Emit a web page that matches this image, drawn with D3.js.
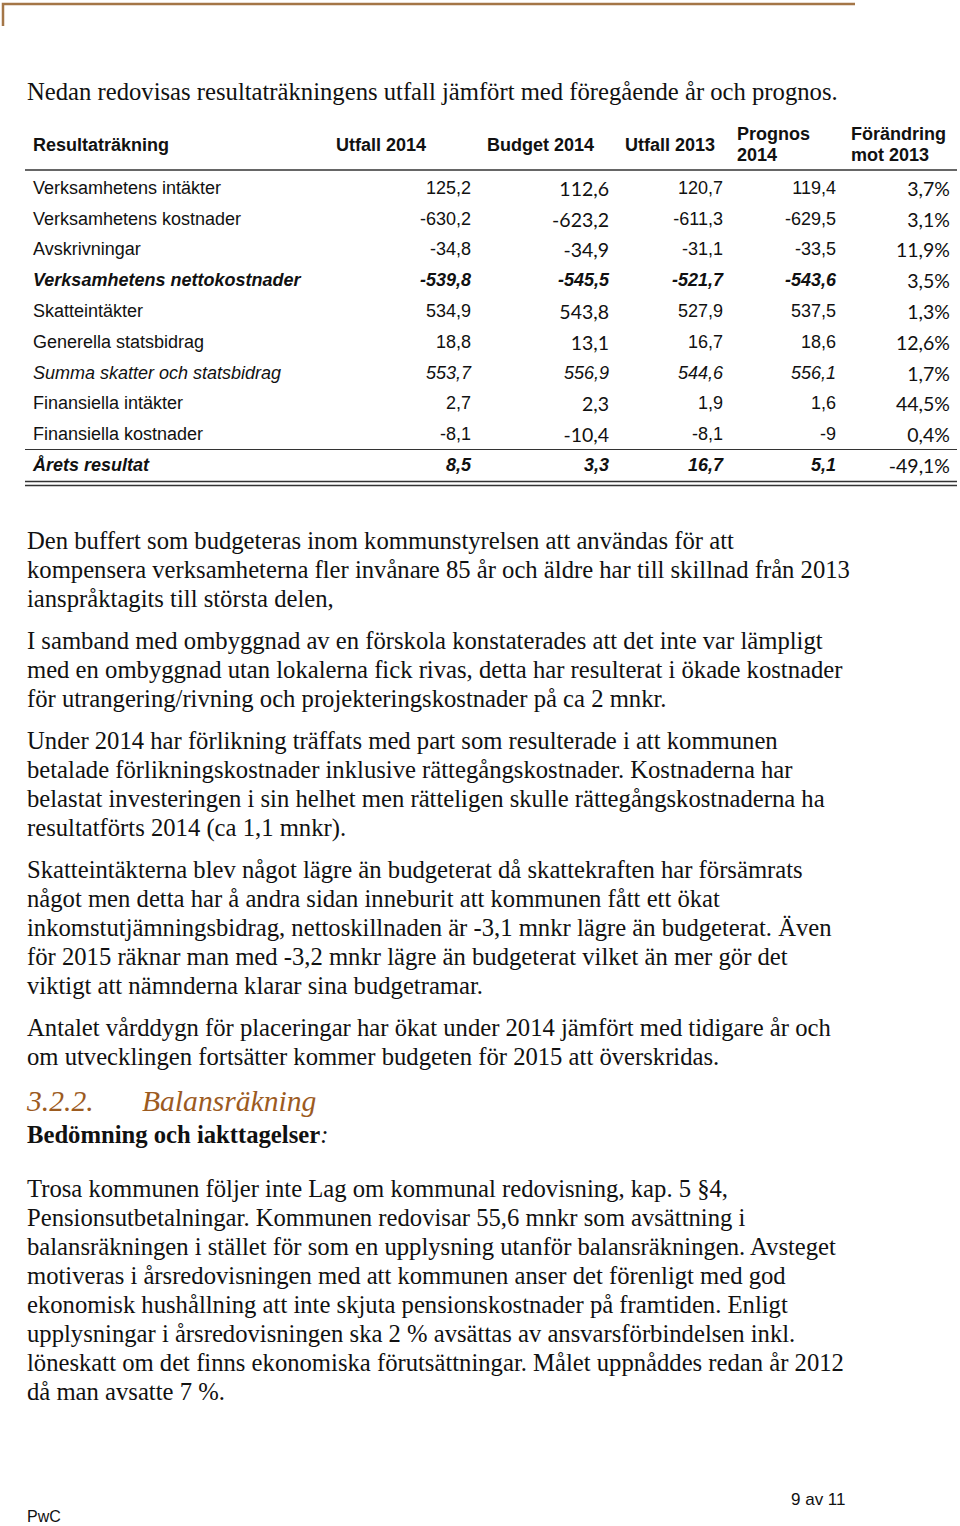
<!DOCTYPE html>
<html><head><meta charset="utf-8">
<script src="https://cdn.jsdelivr.net/npm/d3@7"></script>
<style>body{margin:0;background:#fff}svg{display:block}</style>
</head><body>
<script>
// ---- data ----
const headers = [["Resultaträkning"],["Utfall 2014"],["Budget 2014"],["Utfall 2013"],["Prognos","2014"],["Förändring","mot 2013"]];
const rowLabels = ["Verksamhetens intäkter","Verksamhetens kostnader","Avskrivningar","Verksamhetens nettokostnader","Skatteintäkter","Generella statsbidrag","Summa skatter och statsbidrag","Finansiella intäkter","Finansiella kostnader","Årets resultat"];
const rowStyle = ["n","n","n","bi","n","n","i","n","n","bi"];
const utfall2014 = ["125,2","-630,2","-34,8","-539,8","534,9","18,8","553,7","2,7","-8,1","8,5"];
const budget2014 = ["112,6","-623,2","-34,9","-545,5","543,8","13,1","556,9","2,3","-10,4","3,3"];
const utfall2013 = ["120,7","-611,3","-31,1","-521,7","527,9","16,7","544,6","1,9","-8,1","16,7"];
const prognos2014 = ["119,4","-629,5","-33,5","-543,6","537,5","18,6","556,1","1,6","-9","5,1"];
const forandring = ["3,7%","3,1%","11,9%","3,5%","1,3%","12,6%","1,7%","44,5%","0,4%","-49,1%"];

const intro = "Nedan redovisas resultaträkningens utfall jämfört med föregående år och prognos.";
const paragraphs = [
 ["Den buffert som budgeteras inom kommunstyrelsen att användas för att","kompensera verksamheterna fler invånare 85 år och äldre har till skillnad från 2013","ianspråktagits till största delen,"],
 ["I samband med ombyggnad av en förskola konstaterades att det inte var lämpligt","med en ombyggnad utan lokalerna fick rivas, detta har resulterat i ökade kostnader","för utrangering/rivning och projekteringskostnader på ca 2 mnkr."],
 ["Under 2014 har förlikning träffats med part som resulterade i att kommunen","betalade förlikningskostnader inklusive rättegångskostnader. Kostnaderna har","belastat investeringen i sin helhet men rätteligen skulle rättegångskostnaderna ha","resultatförts 2014 (ca 1,1 mnkr)."],
 ["Skatteintäkterna blev något lägre än budgeterat då skattekraften har försämrats","något men detta har å andra sidan inneburit att kommunen fått ett ökat","inkomstutjämningsbidrag, nettoskillnaden är -3,1 mnkr lägre än budgeterat. Även","för 2015 räknar man med -3,2 mnkr lägre än budgeterat vilket än mer gör det","viktigt att nämnderna klarar sina budgetramar."],
 ["Antalet vårddygn för placeringar har ökat under 2014 jämfört med tidigare år och","om utvecklingen fortsätter kommer budgeten för 2015 att överskridas."]
];
const paraTops = [540, 640, 740, 869, 1027];
const lastPara = ["Trosa kommunen följer inte Lag om kommunal redovisning, kap. 5 §4,","Pensionsutbetalningar. Kommunen redovisar 55,6  mnkr som avsättning i","balansräkningen i stället för som en upplysning utanför balansräkningen. Avsteget","motiveras i årsredovisningen med att kommunen anser det förenligt med god","ekonomisk hushållning att inte skjuta pensionskostnader på framtiden. Enligt","upplysningar i årsredovisningen ska 2 % avsättas av ansvarsförbindelsen inkl.","löneskatt om det finns ekonomiska förutsättningar. Målet uppnåddes redan år 2012","då man avsatte 7 %."];

const W = 960, H = 1526;
const svg = d3.select("body").append("svg").attr("width", W).attr("height", H);
const SERIF = "'Liberation Serif', serif";
const sans = "'Liberation Sans', Arial, sans-serif";
const cal = "Lato, 'Open Sans', sans-serif";
const brown = "#9c5b1f";

// frame at top
svg.append("path").attr("d","M3,26V4H855").attr("fill","none").attr("stroke","#a47647").attr("stroke-width",2.5);

// serif font size fitted to intro width (27 -> 838)
const probe = svg.append("text").attr("font-family", SERIF).attr("font-size", 20).text(intro);
const bw = probe.node().getComputedTextLength();
probe.remove();
const fs = 20 * 811 / bw;

function serifLine(x, yc, t, opts={}) {
  return svg.append("text").attr("x", x).attr("y", yc).attr("dy","0.35em")
    .attr("font-family", SERIF).attr("font-size", opts.size || fs)
    .attr("font-weight", opts.weight || "normal").attr("font-style", opts.style || "normal")
    .attr("fill", opts.fill || "#111").text(t);
}
serifLine(27, 91, intro);

// ---- table ----
const colRight = d3.scaleOrdinal().domain([1,2,3,4,5]).range([471,609,723,836,950]);
const y = d3.scaleBand().domain(d3.range(rowLabels.length)).range([172, 480]).paddingInner(0);
const g = svg.append("g");
const tfs = 18;

// headers
const hdrX = [33, 426, 594, 715, 737, 851];
headers.forEach((h, i) => {
  const t = g.append("text").attr("font-family", sans).attr("font-size", tfs).attr("font-weight","bold").attr("fill","#111");
  if (h.length === 1) {
    t.attr("x", hdrX[i]).attr("y", 145).attr("dy","0.35em").attr("text-anchor", i === 0 ? "start" : "end").text(h[0]);
  } else {
    h.forEach((s, k) => t.append("tspan").attr("x", hdrX[i]).attr("y", 134 + k*21).attr("dy","0.35em").text(s));
  }
});
g.append("line").attr("x1",25).attr("x2",957).attr("y1",170).attr("y2",170).attr("stroke","#666").attr("stroke-width",2.2);

const cols = [utfall2014, budget2014, utfall2013, prognos2014, forandring];
rowLabels.forEach((lab, r) => {
  const yc = y(r) + y.bandwidth()/2;
  const st = rowStyle[r];
  const w = st === "bi" ? "bold" : "normal";
  const it = (st === "bi" || st === "i") ? "italic" : "normal";
  g.append("text").attr("x", 33).attr("y", yc).attr("dy","0.35em").attr("font-family", sans).attr("font-size",tfs)
    .attr("font-weight", w).attr("font-style", it).attr("fill","#111").text(lab);
  cols.forEach((c, ci) => {
    const useCal = ci === 4 || (ci === 1 && st === "n");
    g.append("text").attr("x", colRight(ci+1)).attr("y", yc + (useCal ? 1.5 : 0)).attr("dy","0.35em")
      .attr("text-anchor","end")
      .attr("font-family", useCal ? cal : sans).attr("font-size", useCal ? 19.5 : tfs)
      .attr("font-weight", useCal ? "normal" : w).attr("font-style", useCal ? "normal" : it)
      .attr("fill","#111").text(c[r]);
  });
});
g.append("line").attr("x1",25).attr("x2",957).attr("y1",449.5).attr("y2",449.5).attr("stroke","#333").attr("stroke-width",1.2);
g.append("line").attr("x1",25).attr("x2",957).attr("y1",481.5).attr("y2",481.5).attr("stroke","#333").attr("stroke-width",1.3);
g.append("line").attr("x1",25).attr("x2",957).attr("y1",485.5).attr("y2",485.5).attr("stroke","#333").attr("stroke-width",1.3);

// ---- paragraphs ----
const lh = 29.1;
paragraphs.forEach((p, pi) => {
  p.forEach((line, li) => serifLine(27, paraTops[pi] + li*lh, line));
});

// heading
const hx = svg.append("text").attr("y", 1101).attr("dy","0.35em").attr("font-family", SERIF)
  .attr("font-size", fs*1.2).attr("font-style","italic").attr("fill", brown);
hx.append("tspan").attr("x", 27).text("3.2.2.");
hx.append("tspan").attr("x", 142).text("Balansräkning");

const sub = svg.append("text").attr("x",27).attr("y",1134).attr("dy","0.35em").attr("font-family", SERIF)
  .attr("font-size", fs).attr("fill","#111");
sub.append("tspan").attr("font-weight","bold").text("Bedömning och iakttagelser");
sub.append("tspan").attr("font-style","italic").text(":");

lastPara.forEach((line, li) => serifLine(27, 1188 + li*lh, line));

// footer
svg.append("text").attr("x",791).attr("y",1499).attr("dy","0.35em").attr("font-family", sans).attr("font-size",17).attr("fill","#111").text("9 av 11");
svg.append("text").attr("x",27).attr("y",1516).attr("dy","0.35em").attr("font-family", sans).attr("font-size",16).attr("fill","#111").text("PwC");
</script>
</body></html>
